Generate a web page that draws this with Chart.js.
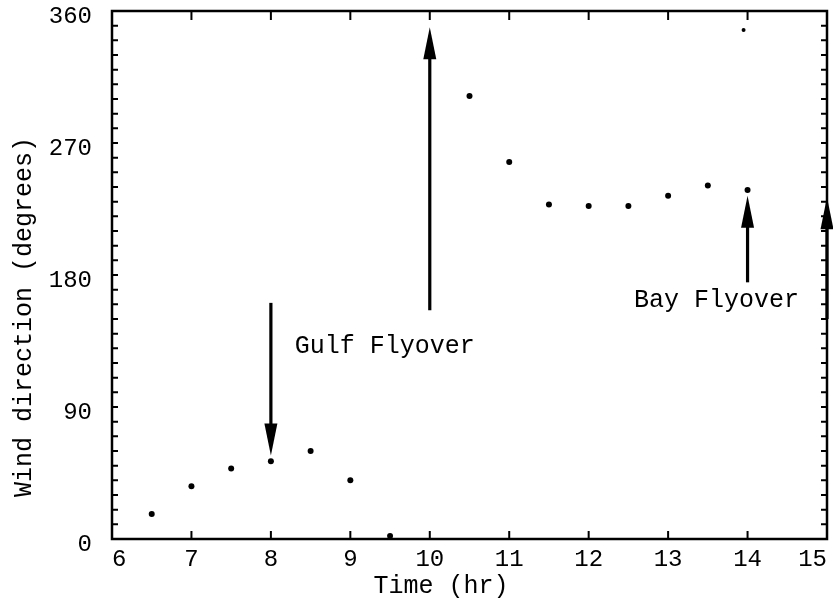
<!DOCTYPE html>
<html>
<head>
<meta charset="utf-8">
<script src="https://cdn.jsdelivr.net/npm/chart.js@4/dist/chart.umd.min.js"></script>
<style>
  html, body { margin: 0; padding: 0; background: #fff; }
  canvas { display: block; }
</style>
</head>
<body>
<canvas id="windChart" width="833" height="607"></canvas>
<script>
// data
var hours   = [6.5, 7, 7.5, 8, 8.5, 9, 9.5, 10.5, 11, 11.5, 12, 12.5, 13, 13.5, 14];
var windDir = [17, 36, 48, 53, 60, 40, 2, 302, 257, 228, 227, 227, 234, 241, 238];
var strayHour = [13.95];
var strayDir  = [347];
var yTickLabels = [0, 90, 180, 270, 360];

// flyover arrows (hour, tail degrees, tip degrees)
var arrowHour = [8, 10, 14, 15];
var arrowTail = [161, 156, 175, 150];
var arrowTip  = [57, 349, 234, 233];

var noteText = ['Gulf Flyover', 'Bay Flyover'];
var noteHour = [8.3, 12.57];
var noteDir  = [131, 163];

var ink = '#000';
var mono = '"Liberation Mono", "DejaVu Sans Mono", monospace';

function toPoints(xs, ys) {
	return xs.map(function(x, i) { return { x: x, y: ys[i] }; });
}

// scanned figure has no label overhang, keep the plot box fixed
function noOverhang(s) {
	s.paddingTop = 0;
	s.paddingBottom = 0;
	s.paddingLeft = 0;
	s.paddingRight = 0;
}

var framePlugin = {
	id: 'frame',
	afterDraw: function(chart) {
		var c = chart.ctx, a = chart.chartArea;
		var xs = chart.scales.x, ys = chart.scales.y;
		c.save();
		c.strokeStyle = ink;
		c.fillStyle = ink;

		// frame
		c.lineWidth = 2.5;
		c.strokeRect(a.left, a.top, a.right - a.left, a.bottom - a.top);

		// inward ticks
		c.lineWidth = 2;
		c.beginPath();
		ys.ticks.forEach(function(t) {
			var py = ys.getPixelForValue(t.value);
			c.moveTo(a.left, py); c.lineTo(a.left + 6, py);
			c.moveTo(a.right, py); c.lineTo(a.right - 6, py);
		});
		xs.ticks.forEach(function(t) {
			var px = xs.getPixelForValue(t.value);
			c.moveTo(px, a.bottom); c.lineTo(px, a.bottom - 8);
			c.moveTo(px, a.top); c.lineTo(px, a.top + 9);
		});
		c.stroke();

		// arrows
		arrowHour.forEach(function(h, i) {
			var px = xs.getPixelForValue(h);
			var y0 = ys.getPixelForValue(arrowTail[i]);
			var y1 = ys.getPixelForValue(arrowTip[i]);
			var dir = y1 > y0 ? 1 : -1;
			var headLen = 32, headW = 6.5;
			c.lineWidth = 3.2;
			c.beginPath();
			c.moveTo(px, y0);
			c.lineTo(px, y1 - dir * headLen * 0.8);
			c.stroke();
			c.beginPath();
			c.moveTo(px, y1);
			c.lineTo(px - headW, y1 - dir * headLen);
			c.lineTo(px + headW, y1 - dir * headLen);
			c.closePath();
			c.fill();
		});

		// notes
		c.font = '25px ' + mono;
		c.textAlign = 'left';
		c.textBaseline = 'middle';
		noteText.forEach(function(s, i) {
			c.fillText(s, xs.getPixelForValue(noteHour[i]), ys.getPixelForValue(noteDir[i]));
		});

		// axis titles
		c.textAlign = 'center';
		c.fillText('Time (hr)', 441, 586);
		c.translate(24, 317);
		c.rotate(-Math.PI / 2);
		c.fillText('Wind direction (degrees)', 0, 0);
		c.restore();
	}
};

var chart = new Chart(document.getElementById('windChart'), {
	type: 'scatter',
	data: {
		datasets: [{
			data: toPoints(hours, windDir),
			backgroundColor: ink,
			borderColor: ink,
			pointRadius: 3,
			pointBorderWidth: 0
		}, {
			data: toPoints(strayHour, strayDir),
			backgroundColor: ink,
			borderColor: ink,
			pointRadius: 2,
			pointBorderWidth: 0
		}]
	},
	options: {
		responsive: false,
		animation: false,
		layout: { padding: { top: 11, right: 6, left: 0, bottom: 0 } },
		plugins: { legend: { display: false }, tooltip: { enabled: false } },
		scales: {
			x: {
				type: 'linear',
				min: 6,
				max: 15,
				grid: { display: false, drawTicks: false },
				border: { display: false },
				ticks: {
					stepSize: 1,
					align: 'inner',
					padding: 6,
					color: ink,
					font: { family: mono, size: 24 }
				},
				afterFit: function(s) { s.height = 68; noOverhang(s); }
			},
			y: {
				min: 0,
				max: 360,
				grid: { display: false, drawTicks: false },
				border: { display: false },
				ticks: {
					stepSize: 10,
					autoSkip: false,
					padding: 20,
					labelOffset: 6,
					color: ink,
					font: { family: mono, size: 24 },
					callback: function(v) {
						return yTickLabels.indexOf(v) >= 0 ? String(v) : '';
					}
				},
				afterFit: function(s) { s.width = 112; noOverhang(s); }
			}
		}
	},
	plugins: [framePlugin]
});
</script>
</body>
</html>
